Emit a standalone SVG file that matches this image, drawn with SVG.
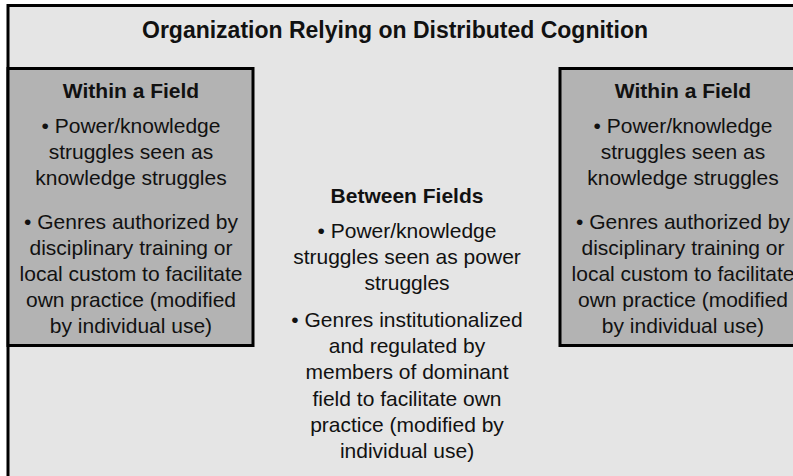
<svg xmlns="http://www.w3.org/2000/svg" width="793" height="476" viewBox="0 0 793 476">
  <style>
    .frame { fill: #e5e5e5; stroke: #000; stroke-width: 3; }
    .field { fill: #b3b3b3; stroke: #000; stroke-width: 3; }
    text { font-family: "Liberation Sans", Arial, Helvetica, sans-serif; fill: #111; text-anchor: middle; }
    .title { font-size: 23px; font-weight: bold; }
    .head { font-size: 21px; font-weight: bold; }
    .body { font-size: 21px; }
  </style>

  <!-- Organization frame -->
  <g id="organization">
    <rect class="frame" x="8" y="5.5" width="800" height="490"/>
    <text class="title" x="395" y="38">Organization Relying on Distributed Cognition</text>
  </g>

  <!-- Left field -->
  <g id="field-left">
    <rect class="field" x="8" y="68.5" width="245" height="277"/>
    <text class="head" x="131" y="98">Within a Field</text>
    <text class="body" x="131" y="133">• Power/knowledge</text>
    <text class="body" x="131" y="159">struggles seen as</text>
    <text class="body" x="131" y="185">knowledge struggles</text>
    <text class="body" x="131" y="228.5">• Genres authorized by</text>
    <text class="body" x="131" y="254.5">disciplinary training or</text>
    <text class="body" x="131" y="280.5">local custom to facilitate</text>
    <text class="body" x="131" y="306.5">own practice (modified</text>
    <text class="body" x="131" y="332.5">by individual use)</text>
  </g>

  <!-- Between fields -->
  <g id="between-fields">
    <text class="head" x="407" y="203">Between Fields</text>
    <text class="body" x="407" y="238">• Power/knowledge</text>
    <text class="body" x="407" y="264">struggles seen as power</text>
    <text class="body" x="407" y="290">struggles</text>
    <text class="body" x="407" y="327">• Genres institutionalized</text>
    <text class="body" x="407" y="353">and regulated by</text>
    <text class="body" x="407" y="379">members of dominant</text>
    <text class="body" x="407" y="405.5">field to facilitate own</text>
    <text class="body" x="407" y="432">practice (modified by</text>
    <text class="body" x="407" y="458">individual use)</text>
  </g>

  <!-- Right field -->
  <g id="field-right">
    <rect class="field" x="560" y="68.5" width="245" height="277"/>
    <text class="head" x="683" y="98">Within a Field</text>
    <text class="body" x="683" y="133">• Power/knowledge</text>
    <text class="body" x="683" y="159">struggles seen as</text>
    <text class="body" x="683" y="185">knowledge struggles</text>
    <text class="body" x="683" y="228.5">• Genres authorized by</text>
    <text class="body" x="683" y="254.5">disciplinary training or</text>
    <text class="body" x="683" y="280.5">local custom to facilitate</text>
    <text class="body" x="683" y="306.5">own practice (modified</text>
    <text class="body" x="683" y="332.5">by individual use)</text>
  </g>

  <g id="connectors"/>
</svg>
